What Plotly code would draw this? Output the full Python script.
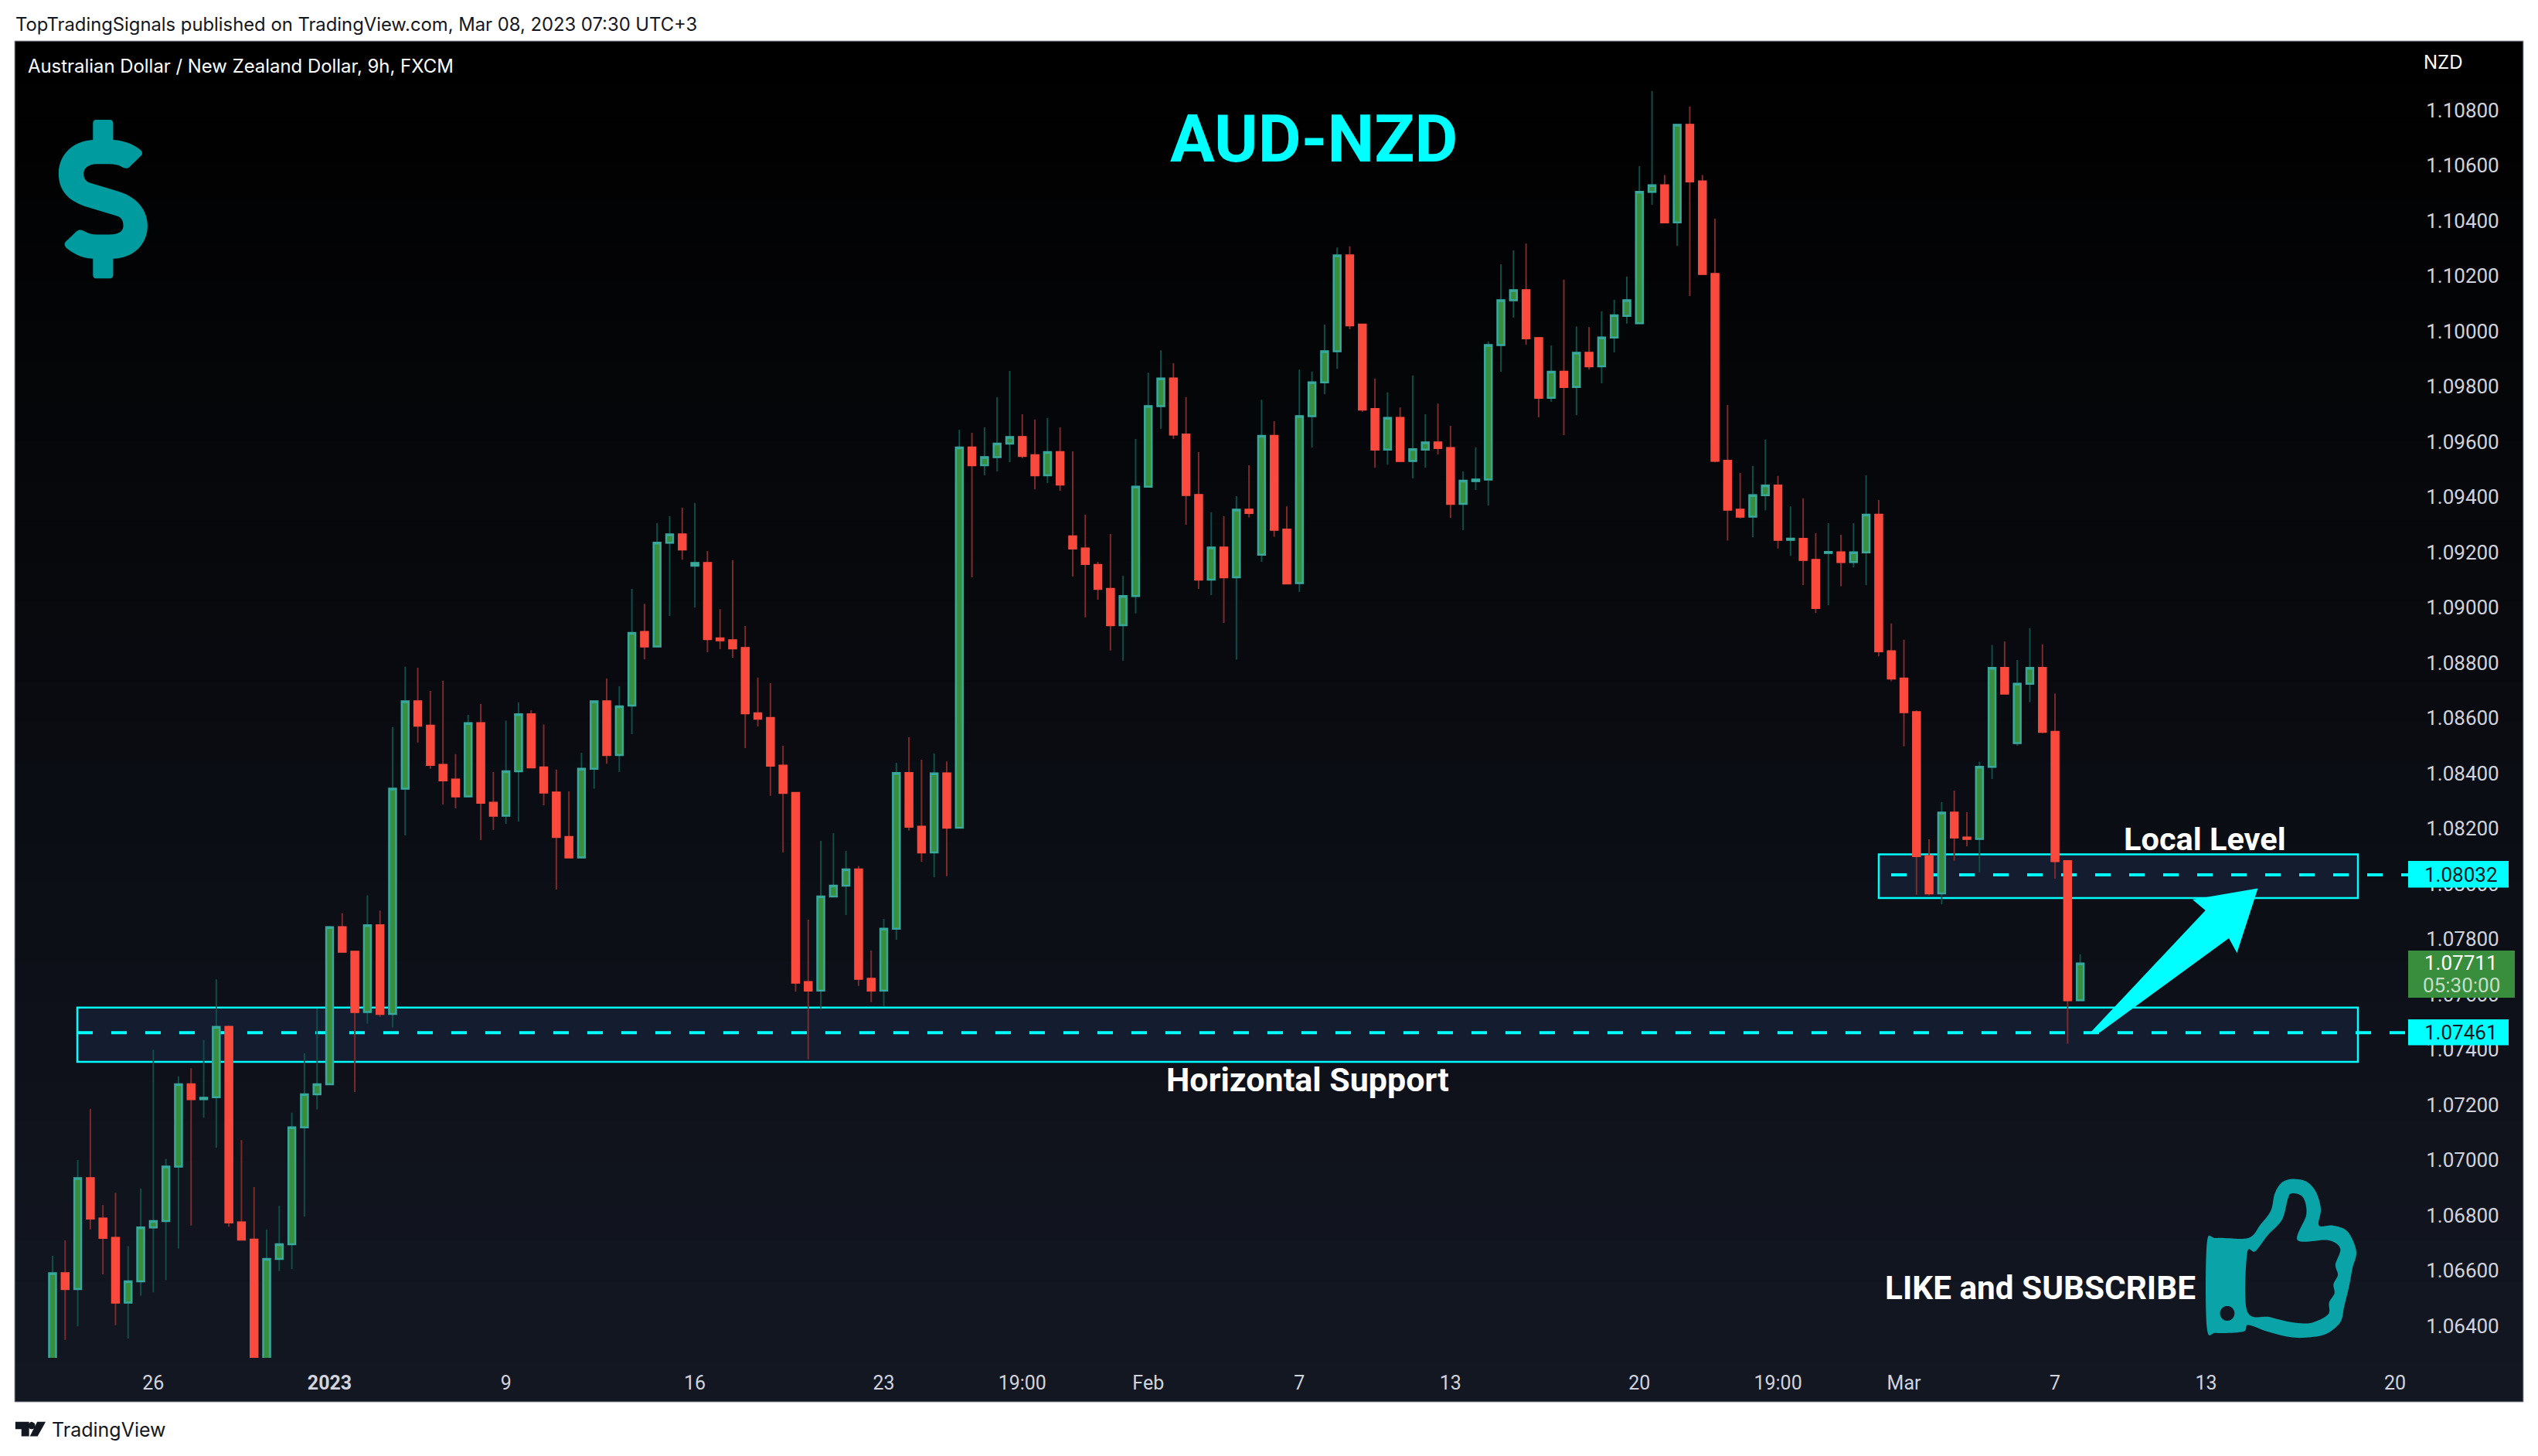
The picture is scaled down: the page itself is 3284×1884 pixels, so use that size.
import plotly.graph_objects as go

# prices in 1e-5 units
open_pts = [106250,106590,106533,106934,106788,106718,106484,106561,106756,106779,
106976,107274,107220,107227,107482,106774,106712,106250,106642,106695,
107118,107238,107274,107843,107754,107536,107850,107529,108344,108660,
108572,108430,108377,108316,108581,108293,108246,108407,108613,108421,
108330,108169,108095,108416,108660,108466,108645,108911,108859,109234,
109264,109151,109161,108888,108881,108853,108617,108600,108427,108329,
107644,107613,107954,107993,108052,107656,107613,107837,108401,108206,
108113,108399,108203,109579,109515,109544,109593,109617,109551,109478,
109562,109257,109213,109154,109067,108936,109041,109437,109729,109829,
109626,109407,109101,109217,109109,109354,109191,109621,109282,109088,
109692,109815,109927,110274,110024,109718,109571,109686,109530,109571,
109597,109577,109375,109457,109463,109950,110112,110148,109975,109759,
109853,109798,109922,109873,109977,110055,110029,110504,110528,110394,
110747,110542,110207,109531,109354,109329,109406,109441,109245,109248,
109172,109197,109199,109164,109199,109336,108841,108743,108621,108100,
107965,108257,108167,108162,108423,108781,108509,108724,108781,108550,
108082,107578]
high_pts = [106653,106709,107000,107185,106837,106881,106688,106897,107399,107004,
107303,107332,107434,107654,107487,107072,106902,106748,106834,107171,
107387,107548,107847,107894,107754,107958,107903,108567,108785,108782,
108698,108734,108469,108611,108651,108404,108590,108656,108628,108576,
108413,108334,108474,108660,108743,108715,109067,109013,109305,109330,
109361,109378,109204,108994,109171,108933,108746,108726,108499,108329,
107870,108155,108183,108119,108064,107758,107873,108438,108530,108449,
108471,108443,109643,109632,109652,109761,109856,109699,109680,109686,
109652,109565,109336,109165,109266,109115,109610,109850,109931,109884,
109761,109562,109344,109330,109403,109515,109752,109674,109366,109861,
109854,110024,110303,110307,110024,109828,109778,109724,109839,109699,
109738,109657,109492,109579,109962,110242,110292,110317,109975,109948,
110186,110017,110015,110071,110113,110197,110597,110869,110565,110747,
110813,110565,110407,109733,109487,109512,109608,109476,109366,109395,
109269,109305,109263,109305,109478,109389,108942,108883,108627,108161,
108296,108337,108259,108441,108864,108877,108810,108925,108866,108688,
108082,107745]
low_pts = [106200,106349,106398,106749,106586,106402,106354,106509,106521,106565,
106679,106763,107153,107044,106758,106712,106200,106200,106598,106605,
106795,107183,107274,107754,107246,107494,107518,107480,108175,108511,
108416,108287,108273,108316,108158,108195,108217,108225,108421,108284,
107979,108095,108094,108344,108435,108404,108541,108812,108859,108969,
109173,109000,108838,108849,108818,108491,108569,108318,108113,107610,
107364,107544,107954,107887,107630,107571,107557,107797,108192,108080,
108024,108027,108203,109109,109478,109492,109526,109540,109428,109450,
109422,109112,108964,109028,108844,108807,108978,109435,109646,109610,
109299,109067,109045,108944,108811,109326,109165,109256,109085,109056,
109579,109772,109863,110007,109708,109506,109517,109530,109467,109506,
109554,109324,109280,109425,109369,109853,110049,109951,109688,109744,
109624,109696,109861,109811,109923,110027,110029,110457,110394,110309,
110127,110204,109525,109242,109322,109254,109351,109213,109187,109081,
108980,109008,109077,109145,109081,108823,108733,108497,107960,107957,
107925,108083,108136,108041,108379,108688,108499,108657,108545,108018,
107421,107578]
close_pts = [106590,106533,106934,106788,106718,106484,106561,106756,106779,106976,
107274,107220,107225,107482,106774,106712,106250,106642,106695,107118,
107238,107274,107843,107754,107536,107850,107529,108344,108660,108572,
108430,108374,108316,108581,108293,108246,108407,108613,108421,108330,
108169,108095,108416,108660,108466,108642,108908,108859,109234,109264,
109210,109161,108885,108881,108852,108617,108597,108427,108329,107642,
107613,107954,107993,108052,107656,107613,107837,108401,108206,108113,
108399,108203,109579,109515,109544,109593,109617,109548,109478,109562,
109445,109213,109157,109067,108936,109041,109437,109729,109829,109626,
109407,109101,109217,109109,109354,109342,109621,109281,109087,109692,
109815,109927,110274,110021,109716,109571,109686,109530,109573,109597,
109577,109375,109459,109463,109950,110112,110148,109974,109759,109853,
109798,109922,109873,109977,110057,110112,110504,110528,110394,110747,
110542,110207,109531,109354,109329,109406,109441,109245,109249,109172,
108998,109201,109164,109199,109336,108841,108743,108621,108100,107965,
108257,108167,108162,108423,108781,108688,108724,108781,108550,108082,
107578,107711]

time_ticks = [8, 22, 36, 51, 66, 77, 87, 99, 111, 126, 137, 147, 159, 171, 186]
time_labels = ["26", "<b>2023</b>", "9", "16", "23", "19:00", "Feb", "7", "13", "20", "19:00", "Mar", "7", "13", "20"]
price_ticks = [1.064 + 0.002 * k for k in range(23)]

level_low = 1.07461
level_high = 1.08032
zone_low = (1.07355, 1.07552)
zone_high = (1.07948, 1.08106)
last_price = 1.07711

W, H = 3284, 1884
PL, PR, PT, PB = 20, 3116, 54, 1757
FL, FR, FT, FB = 20, 3264, 54, 1813
SPACE = 16.296
X0 = 68
Y_TOP = 1.094 + (643 - PT) / 35750
Y_BOT = 1.094 - (PB - 643) / 35750
X_LO = (PL - X0) / SPACE
X_HI = (PR - X0) / SPACE


def px(x):
    return (x - PL) / (PR - PL)


def py(y):
    return (PB - y) / (PB - PT)


def idx(x):
    return (x - X0) / SPACE


def rect_paper(x0, y0, x1, y1, fill, line=None, layer="below", lw=1):
    return dict(type="rect", xref="paper", yref="paper", x0=px(x0), x1=px(x1), y0=py(y0), y1=py(y1),
                fillcolor=fill, line=dict(color=line or fill, width=lw if line else 0), layer=layer)


def build_path(segs, fx, fy):
    out = []
    for seg in segs:
        cmd = seg[0]
        if cmd == "Z":
            out.append("Z")
            continue
        coords = " ".join(f"{px(fx(a)):.6f},{py(fy(b)):.6f}" for a, b in seg[1:])
        out.append(f"{cmd} {coords}")
    return " ".join(out)


def smooth(points, k=0.16):
    n = len(points)
    segs = [("M", points[0])]
    for i in range(n):
        p0, p1, p2, p3 = points[i - 1], points[i], points[(i + 1) % n], points[(i + 2) % n]
        c1 = (p1[0] + (p2[0] - p0[0]) * k, p1[1] + (p2[1] - p0[1]) * k)
        c2 = (p2[0] - (p3[0] - p1[0]) * k, p2[1] - (p3[1] - p1[1]) * k)
        segs.append(("C", c1, c2, p2))
    segs.append(("Z",))
    return segs


def path_shape(segs, fx, fy, color, layer="above"):
    return dict(type="path", xref="paper", yref="paper", path=build_path(segs, fx, fy),
                fillcolor=color, line=dict(width=0), layer=layer)


def ann(text, x, y, size, color, anchor="left", family="Roboto"):
    return dict(text=text, xref="paper", yref="paper", x=px(x), y=py(y), xanchor=anchor, yanchor="middle",
                showarrow=False, font=dict(size=size, color=color, family=family), borderpad=0, borderwidth=0)


# background frame and vertical gradient
shapes = [rect_paper(FL - 1, FT - 1, FR + 1, FB + 1, "#131722", "#9598a1", lw=1)]
BANDS = 34
for b in range(BANDS):
    t = b / (BANDS - 1)
    c = f"rgb({round(19*t)},{round(23*t)},{round(34*t)})"
    y0 = FT + (FB - FT) * b / BANDS
    y1 = FT + (FB - FT) * (b + 1) / BANDS + 0.5
    shapes.append(rect_paper(FL, y0, FR, min(y1, FB), c))

CYAN = "#00ffff"
ZONE = "#141d2f"
x_lo_zone, x_hi_zone = idx(100), idx(3051)
x_up_zone = idx(2431)
shapes += [
    dict(type="rect", x0=x_lo_zone, x1=x_hi_zone, y0=zone_low[0], y1=zone_low[1], fillcolor=ZONE,
         line=dict(color=CYAN, width=2.5), layer="below"),
    dict(type="rect", x0=x_up_zone, x1=x_hi_zone, y0=zone_high[0], y1=zone_high[1], fillcolor=ZONE,
         line=dict(color=CYAN, width=2.5), layer="below"),
    dict(type="line", x0=x_lo_zone, x1=X_HI, y0=level_low, y1=level_low,
         line=dict(color=CYAN, width=4, dash="20px,24px"), layer="below"),
    dict(type="line", x0=idx(2447), x1=X_HI, y0=level_high, y1=level_high,
         line=dict(color=CYAN, width=4, dash="20px,24px"), layer="below"),
]

# arrow
arrow_pts = [(2705, 1336), (2717, 1336), (2884, 1214), (2894.5, 1233), (2921.5, 1149.5), (2837, 1164), (2853.7, 1178)]
shapes.append(path_shape([("M", arrow_pts[0])] + [("L", p) for p in arrow_pts[1:]] + [("Z",)],
                         lambda a: a, lambda b: b, CYAN))

# price tags (over the axis labels)
shapes += [
    rect_paper(3116, 1114, 3246, 1148.5, CYAN, layer="above"),
    rect_paper(3116, 1319, 3246, 1352.5, CYAN, layer="above"),
    rect_paper(3116, 1230, 3254, 1291, "#388e3c", layer="above"),
]

# dollar icon, drawn in zoom coordinates
dollar = [
    ("M", (230, 250)), ("C", (230, 246), (233, 243), (237, 243)), ("L", (272, 243)),
    ("C", (277, 243), (280, 246), (280, 250)), ("L", (280, 284)),
    ("C", (312, 285), (338, 297), (350, 306)), ("C", (353, 310), (352, 314), (349, 316)),
    ("L", (320, 339)), ("C", (314, 343), (308, 342), (300, 338)),
    ("C", (290, 334), (282, 333), (270, 333)), ("L", (240, 333)),
    ("C", (218, 333), (207, 342), (207, 352)), ("C", (207, 362), (212, 368), (222, 371)),
    ("L", (295, 389)), ("C", (345, 402), (365, 430), (365, 458)),
    ("C", (365, 498), (328, 524), (280, 525)), ("L", (280, 558)),
    ("C", (280, 562), (277, 565), (272, 565)), ("L", (237, 565)),
    ("C", (233, 565), (230, 562), (230, 558)), ("L", (230, 525)),
    ("C", (200, 524), (178, 512), (163, 502)), ("C", (159, 498), (159, 493), (163, 490)),
    ("L", (190, 469)), ("C", (196, 465), (202, 466), (208, 469)),
    ("C", (218, 474), (228, 476), (240, 476)), ("L", (270, 476)),
    ("C", (294, 476), (305, 470), (305, 458)), ("C", (305, 447), (300, 441), (288, 438)),
    ("L", (215, 420)), ("C", (170, 408), (145, 388), (145, 352)),
    ("C", (145, 315), (180, 286), (230, 284)), ("Z",),
]
shapes.append(path_shape(dollar, lambda a: a / 1.912, lambda b: b / 1.568, "#009b9e"))

# thumbs-up icon
thumb_outer = [(905, 740), (970, 740), (995, 690), (1017, 635), (1025, 570), (1040, 528), (1062, 515), (1090, 525),
               (1110, 565), (1120, 630), (1116, 692), (1145, 692), (1175, 715), (1193, 790), (1185, 855), (1178, 925),
               (1168, 1000), (1160, 1060), (1130, 1105), (1090, 1118), (1055, 1116), (1010, 1095), (970, 1070),
               (960, 1095), (905, 1100), (885, 1080), (885, 760)]
thumb_inner = [(968, 797), (985, 790), (1010, 730), (1040, 670), (1052, 590), (1060, 570), (1083, 585), (1090, 650),
               (1072, 748), (1135, 748), (1160, 780), (1150, 840), (1155, 880), (1146, 915), (1148, 950), (1137, 985),
               (1135, 1030), (1100, 1062), (1060, 1060), (1015, 1040), (968, 1017)]
thumb_hole = [(927, 998), (937, 1005), (942, 1026), (937, 1047), (927, 1054), (917, 1047), (912, 1026), (917, 1005)]
thumb_segs = smooth(thumb_outer) + smooth(thumb_inner[::-1]) + smooth(thumb_hole[::-1], 0.2)
shapes.append(path_shape(thumb_segs, lambda a: 2300 + a / 1.593, lambda b: 1350 + b / 2.936, "#0aa3a8"))

# TradingView logo
tv1 = [(38, 1497), (72, 1497), (72, 1527), (53, 1527), (53, 1512), (38, 1512)]
tv2 = [(113, 1497), (93, 1527), (74, 1527), (92, 1497)]
tv3 = [(78, 1497), (85, 1500), (87, 1505), (85, 1510), (78, 1512), (72, 1510), (70, 1505), (72, 1500)]
fz = lambda a: a / 1.912
fy2 = lambda b: 900 + b / 1.593
for pts in (tv1, tv2):
    shapes.append(path_shape([("M", pts[0])] + [("L", p) for p in pts[1:]] + [("Z",)], fz, fy2, "#131722"))
shapes.append(path_shape(smooth(tv3), fz, fy2, "#131722"))

AXIS = "#d1d4dc"
DARK = "#131722"
annotations = [
    ann("TopTradingSignals published on TradingView.com, Mar 08, 2023 07:30 UTC+3", 20, 31, 23.8, DARK, family="Inter"),
    ann("Australian Dollar / New Zealand Dollar, 9h, FXCM", 36, 85, 23.9, "#ffffff", family="Inter"),
    ann("NZD", 3136, 80, 24, "#ffffff", family="Inter"),
    ann("<b>AUD-NZD</b>", 1700, 180, 86, CYAN, "center"),
    ann("<b>Local Level</b>", 2853, 1085, 41.5, "#ffffff", "center"),
    ann("<b>Horizontal Support</b>", 1692, 1397, 43, "#ffffff", "center"),
    ann("<b>LIKE and SUBSCRIBE</b>", 2640, 1666, 42.3, "#ffffff", "center"),
    ann(f"{level_high:.5f}", 3137, 1132, 26, DARK),
    ann(f"{level_low:.5f}", 3137, 1336, 26, DARK),
    ann(f"{last_price:.5f}", 3137, 1246, 26, "#ffffff"),
    ann("05:30:00", 3135, 1275, 26, "#c5dfc7"),
    ann("TradingView", 67, 1850, 25, DARK, family="Inter"),
]

x = list(range(len(open_pts)))
opens = [v / 1e5 for v in open_pts]
highs = [v / 1e5 for v in high_pts]
lows = [v / 1e5 for v in low_pts]
closes = [v / 1e5 for v in close_pts]
body_hi = [max(a, b) for a, b in zip(opens, closes)]
body_lo = [min(a, b) for a, b in zip(opens, closes)]

wicks = go.Candlestick(
    x=x, open=opens, high=highs, low=lows, close=closes, whiskerwidth=0, hoverinfo="skip",
    increasing=dict(line=dict(color="#0f4d47", width=2), fillcolor="#0f4d47"),
    decreasing=dict(line=dict(color="#7d2a2b", width=2), fillcolor="#7d2a2b"),
)
bodies = go.Candlestick(
    x=x, open=opens, high=body_hi, low=body_lo, close=closes, whiskerwidth=0, hoverinfo="skip",
    increasing=dict(line=dict(color="#38a89d", width=2.5), fillcolor="#388e3c"),
    decreasing=dict(line=dict(color="#f94a3d", width=2.5), fillcolor="#f94a3d"),
)

fig = go.Figure([wicks, bodies])
fig.update_layout(
    width=W, height=H, showlegend=False, paper_bgcolor="#ffffff", plot_bgcolor="rgba(0,0,0,0)",
    margin=dict(l=PL, r=W - PR, t=PT, b=H - PB, pad=0, autoexpand=False),
    boxmode="overlay", boxgap=0.22,
    shapes=shapes, annotations=annotations, font=dict(family="Roboto", color=AXIS),
    xaxis=dict(range=[X_LO, X_HI], rangeslider=dict(visible=False), showgrid=False, zeroline=False, showline=False,
               tickmode="array", tickvals=time_ticks, ticktext=time_labels, ticks="outside", ticklen=10,
               tickcolor="rgba(0,0,0,0)", tickfont=dict(size=25, color=AXIS, family="Roboto")),
    yaxis=dict(range=[Y_BOT, Y_TOP], side="right", showgrid=False, zeroline=False, showline=False,
               tickmode="array", tickvals=price_ticks, ticktext=[f"{v:.5f}" for v in price_ticks], ticks="outside",
               ticklen=17, tickcolor="rgba(0,0,0,0)", tickfont=dict(size=26, color=AXIS, family="Roboto")),
)
fig.write_html("out.html", post_script="document.body.style.margin='0';document.body.style.overflow='hidden';",
               config=dict(displayModeBar=False))
